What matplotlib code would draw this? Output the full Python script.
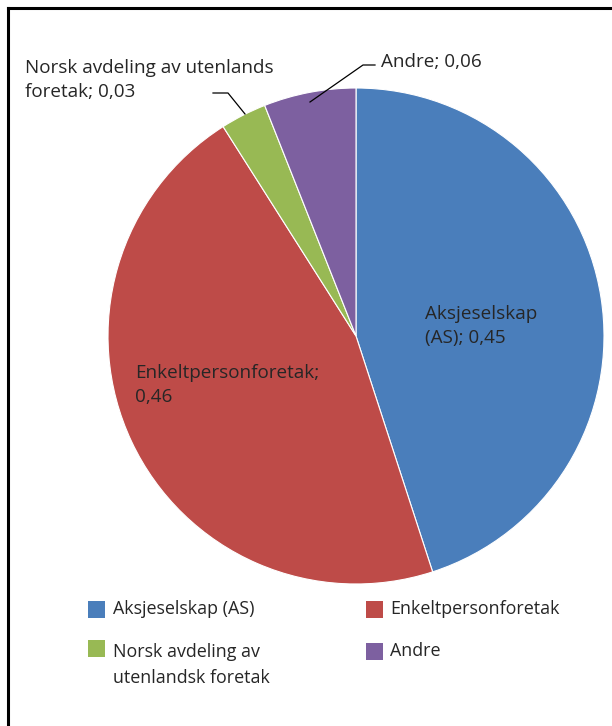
import matplotlib.pyplot as plt
from matplotlib.patches import Rectangle
from matplotlib.lines import Line2D

plt.rcParams['font.family'] = ['Open Sans', 'DejaVu Sans']

labels = ['Aksjeselskap (AS)', 'Enkeltpersonforetak',
          'Norsk avdeling av\nutenlandsk foretak', 'Andre']
values = [0.45, 0.46, 0.03, 0.06]
colors = ['#4A7EBB', '#BE4B48', '#98B954', '#7D60A0']
slice_labels = ['Aksjeselskap\n(AS); 0,45', 'Enkeltpersonforetak;\n0,46',
                'Norsk avdeling av utenlands\nforetak; 0,03', 'Andre; 0,06']

W, H = 612, 726
fig = plt.figure(figsize=(W / 100, H / 100), dpi=100)

# pie axes: center (356, 336), radius 248 px
cx, cy, r = 356, 336, 248
ax = fig.add_axes([(cx - r) / W, 1 - (cy + r) / H, 2 * r / W, 2 * r / H])
ax.pie(values, colors=colors, startangle=90, counterclock=False, radius=1,
       wedgeprops=dict(edgecolor='white', linewidth=0.8))
ax.set_xlim(-1, 1)
ax.set_ylim(-1, 1)
ax.set_aspect('auto')
ax.axis('off')


def px(x, y):
    return (x - cx) / r, (cy - y) / r


fs = 13.6
ls = 1.4
ax.text(*px(425, 326), slice_labels[0], fontsize=fs, ha='left', va='center',
        color='#262626', linespacing=ls, clip_on=False)
ax.text(*px(135, 385), slice_labels[1], fontsize=fs, ha='left', va='center',
        color='#262626', linespacing=ls, clip_on=False)
ax.text(*px(25, 80), slice_labels[2], fontsize=fs, ha='left', va='center',
        color='#262626', linespacing=ls, clip_on=False)
ax.text(*px(381, 62), slice_labels[3], fontsize=fs, ha='left', va='center',
        color='#262626', clip_on=False)

# leader lines
for pts in [[(213, 93), (228, 93), (245, 114)],
            [(375, 65), (363, 65), (310, 102)]]:
    xs, ys = zip(*[px(*p) for p in pts])
    ax.add_line(Line2D(xs, ys, color='black', linewidth=0.9, clip_on=False))

# legend
lfs = 12.9
leg_pos = [(88, 113, 609), (366, 390, 609), (88, 113, 665), (366, 390, 651)]
for (sx, tx, ty), lab, col in zip(leg_pos, labels, colors):
    sq_top = ty - 8 if '\n' not in lab else ty - 25
    fig.patches.append(Rectangle((sx / W, 1 - (sq_top + 17) / H), 17 / W, 17 / H,
                                 transform=fig.transFigure, facecolor=col,
                                 edgecolor='none'))
    fig.text(tx / W, 1 - ty / H, lab, fontsize=lfs, ha='left', va='center',
             color='#262626', linespacing=1.55)

# frame (top and left edges only)
fig.add_artist(Line2D([7.5 / W, 1], [1 - 7.5 / H, 1 - 7.5 / H],
                      transform=fig.transFigure, color='black', linewidth=2.2))
fig.add_artist(Line2D([7.5 / W, 7.5 / W], [0, 1 - 7.5 / H],
                      transform=fig.transFigure, color='black', linewidth=2.2))

fig.savefig('out.png', dpi=100)
